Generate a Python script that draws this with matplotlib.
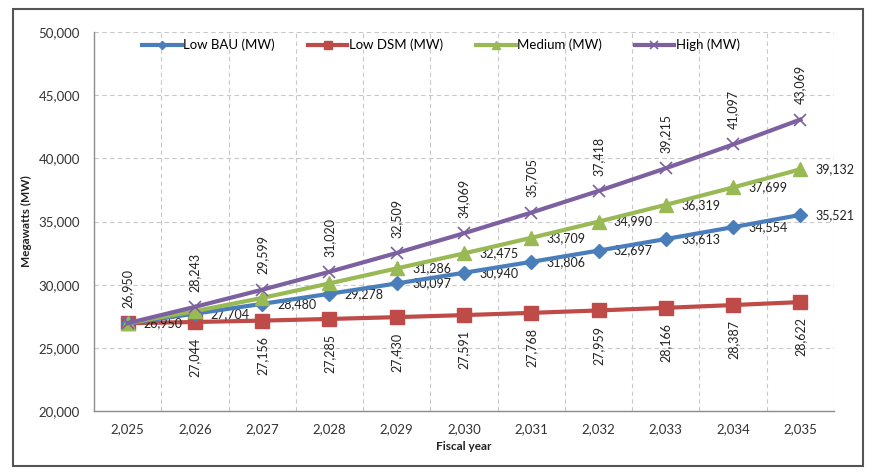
import matplotlib
matplotlib.use("Agg")
import matplotlib.pyplot as plt
from matplotlib.patches import Rectangle
from matplotlib.ticker import FuncFormatter

years = ["2,025", "2,026", "2,027", "2,028", "2,029", "2,030", "2,031", "2,032", "2,033", "2,034", "2,035"]
low_bau = [26950, 27704, 28480, 29278, 30097, 30940, 31806, 32697, 33613, 34554, 35521]
low_dsm = [26950, 27044, 27156, 27285, 27430, 27591, 27768, 27959, 28166, 28387, 28622]
medium = [26950, 27900, 28950, 30100, 31286, 32475, 33709, 34990, 36319, 37699, 39132]
high = [26950, 28243, 29599, 31020, 32509, 34069, 35705, 37418, 39215, 41097, 43069]

plt.rcParams['font.family'] = ['Lato', 'DejaVu Sans']

fig = plt.figure(figsize=(8.77, 4.75), dpi=100)
ax = fig.add_axes([94/877, 1-411/475, (834-94)/877, (411-32)/475])

x = list(range(len(years)))
lw = 3
ax.plot(x, low_bau, color='#4A7EBB', lw=lw, marker='D', ms=7.5, label='Low BAU (MW)', zorder=4)
ax.plot(x, low_dsm, color='#BE4B48', lw=lw, marker='s', ms=9.5, label='Low DSM (MW)', zorder=3)
ax.plot(x, medium, color='#98B954', lw=lw, marker='^', ms=10, label='Medium (MW)', zorder=5)
ax.plot(x, high, color='#7D60A0', lw=lw, marker='x', ms=9, mew=1.2, label='High (MW)', zorder=6)

fs = 9
fmt = lambda v: f"{v:,}"
for i, v in enumerate(high):
    ax.annotate(fmt(v), (i, v), xytext=(0, 11), textcoords='offset points',
                rotation=90, ha='center', va='bottom', fontsize=fs, color='#222')
for i, v in enumerate(low_dsm):
    if i == 0:
        continue
    ax.annotate(fmt(v), (i, v), xytext=(0, -11), textcoords='offset points',
                rotation=90, ha='center', va='top', fontsize=fs, color='#222')
for i, v in enumerate(low_bau):
    ax.annotate(fmt(v), (i, v), xytext=(11, 0), textcoords='offset points',
                ha='left', va='center', fontsize=fs, color='#222')
for i, v in enumerate(medium):
    if i < 4:
        continue
    ax.annotate(fmt(v), (i, v), xytext=(11, 0), textcoords='offset points',
                ha='left', va='center', fontsize=fs, color='#222')

ax.set_xlim(-0.5, len(years) - 0.5)
ax.set_ylim(20000, 50000)
ax.set_yticks(range(20000, 50001, 5000))
ax.yaxis.set_major_formatter(FuncFormatter(lambda v, p: f"{int(v):,}"))
ax.set_xticks(x)
ax.set_xticklabels(years)
ax.set_xticks([i + 0.5 for i in range(len(years))], minor=True)

ax.grid(True, axis='y', which='major', color='#C8C8C8', ls=(0, (4, 3)), lw=0.8)
ax.grid(True, axis='x', which='minor', color='#C8C8C8', ls=(0, (4, 3)), lw=0.8)
ax.set_axisbelow(True)
for s in ['top', 'right']:
    ax.spines[s].set_visible(False)
for s in ['left', 'bottom']:
    ax.spines[s].set_color('#8C8C8C')
    ax.spines[s].set_linewidth(1.0)
ax.tick_params(axis='both', which='both', length=0, labelsize=9.5, colors='#333')
ax.tick_params(axis='y', pad=10)
ax.tick_params(axis='x', pad=9)

ax.set_ylabel('Megawatts (MW)', fontsize=8.5, fontweight='bold', color='#222', labelpad=5)
ax.set_xlabel('Fiscal year', fontsize=8.5, fontweight='bold', color='#222', labelpad=4)

leg = fig.legend(loc='center', bbox_to_anchor=(441/877, 1-45/475), ncol=4, frameon=False,
                 fontsize=9.5, handlelength=3.0, columnspacing=2.5, handletextpad=0.1,
                 markerscale=0.6)

fig.patches.append(Rectangle((13/877, 1-466/475), (863-13)/877, (466-9)/475,
                             transform=fig.transFigure, fill=False, ec='#555555', lw=1.5))

fig.savefig('out.png', dpi=100, facecolor='white')
